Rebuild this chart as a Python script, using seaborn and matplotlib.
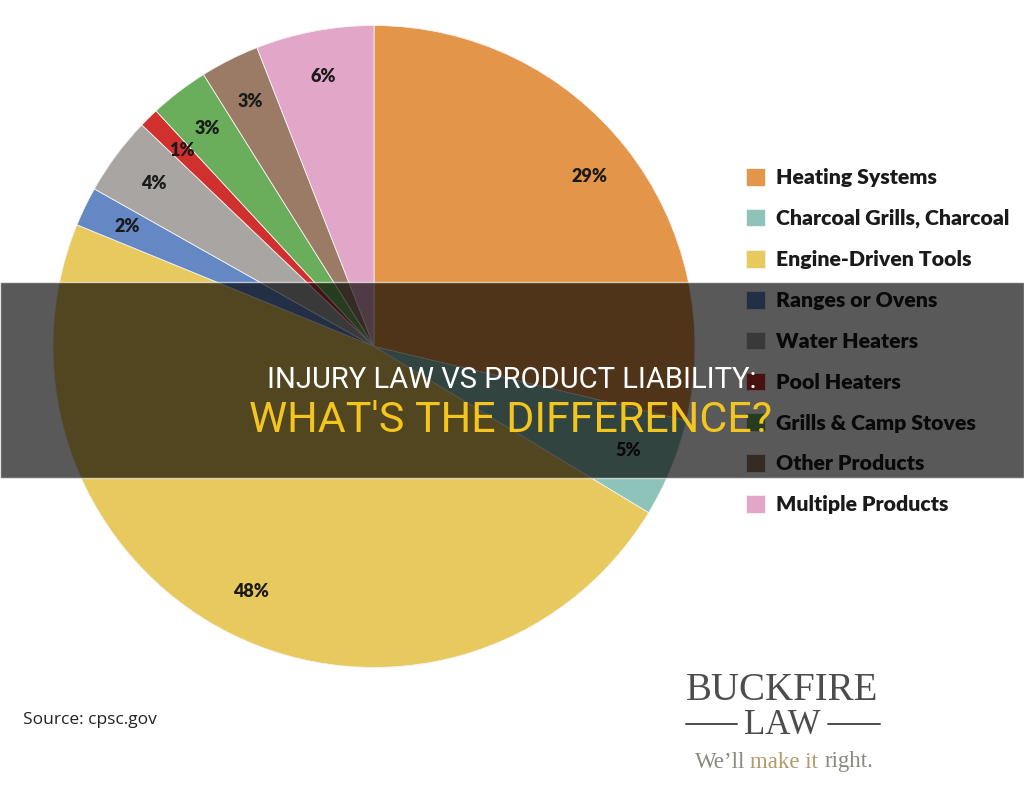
import matplotlib
matplotlib.use("Agg")
import matplotlib.pyplot as plt
from matplotlib.patches import Rectangle
import seaborn as sns

categories = ["Heating Systems", "Charcoal Grills, Charcoal", "Engine-Driven Tools",
              "Ranges or Ovens", "Water Heaters", "Pool Heaters",
              "Grills & Camp Stoves", "Other Products", "Multiple Products"]
shares = [29, 5, 48, 2, 4, 1, 3, 3, 6]
colors = ["#E3954A", "#8DC3B8", "#E8C95E", "#6488C4", "#A8A5A3",
          "#D0302E", "#6AAD5A", "#9C7B66", "#E2A6C8"]

sns.set_theme(style="white")
plt.rcParams["font.family"] = ["Lato", "DejaVu Sans"]

W, H = 1024, 794
fig = plt.figure(figsize=(W / 100, H / 100), dpi=100)
fig.patch.set_facecolor("white")

# pie axes: centre (374, 346.5) px, radius 321 px
cx, cy, r = 374, 346.5, 321
ax = fig.add_axes([(cx - r) / W, (H - cy - r) / H, 2 * r / W, 2 * r / H])
wedges, _, autotexts = ax.pie(
    shares, colors=sns.color_palette(colors), startangle=90, counterclock=False,
    autopct=lambda p: "", pctdistance=0.855,
    wedgeprops=dict(linewidth=0.6, edgecolor="#f3f3f3"))
for t, v in zip(autotexts, shares):
    t.set_text(f"{v}%")
    t.set_fontsize(13)
    t.set_fontweight("heavy")
    t.set_color("#1a1a1a")
ax.set_xlim(-1, 1)
ax.set_ylim(-1, 1)
ax.set_aspect("auto")
ax.axis("off")

leg = ax.legend(wedges, categories, loc="upper left",
                bbox_to_anchor=(746 / W, (H - 168) / H), bbox_transform=fig.transFigure,
                frameon=False, fontsize=15.3, handlelength=0.9, handleheight=0.9,
                handletextpad=0.5, labelspacing=1.02, borderaxespad=0, borderpad=0)
for txt in leg.get_texts():
    txt.set_fontweight("heavy")
    txt.set_color("#1a1a1a")

fig.text(23 / W, (H - 720) / H, "Source: cpsc.gov", fontsize=12.5, color="#222222",
         family=["Open Sans", "DejaVu Sans"], va="center", ha="left")

# logo
serif = ["Liberation Serif", "DejaVu Serif"]
fig.text(782 / W, (H - 691) / H, "BUCKFIRE", fontsize=28, color="#4d4d4d",
         family=serif, ha="center", va="center")
fig.text(782 / W, (H - 726) / H, "LAW", fontsize=25, color="#4d4d4d",
         family=serif, ha="center", va="center")
fig.add_artist(plt.Line2D([686 / W, 737 / W], [(H - 724) / H] * 2, color="#4d4d4d", lw=1.4))
fig.add_artist(plt.Line2D([828 / W, 880 / W], [(H - 724) / H] * 2, color="#4d4d4d", lw=1.4))
fig.text(745 / W, (H - 762) / H, "We\u2019ll", fontsize=16.5, color="#8a8a80",
         family=serif, ha="right", va="center")
fig.text(750 / W, (H - 762) / H, "make it", fontsize=16.5, color="#B59A6A",
         family=serif, ha="left", va="center")
fig.text(825 / W, (H - 762) / H, "right.", fontsize=16.5, color="#8a8a80",
         family=serif, ha="left", va="center")

# dark title band
fig.patches.append(Rectangle((0, (H - 478) / H), 1, 196 / H, transform=fig.transFigure,
                             facecolor="black", alpha=0.65, zorder=5))
narrow = ["Roboto", "DejaVu Sans"]
fig.text(512 / W, (H - 380) / H, "INJURY LAW VS PRODUCT LIABILITY:", fontsize=21,
         color="white", family=narrow, ha="center", va="center", zorder=6)
fig.text(511 / W, (H - 421) / H, "WHAT'S THE DIFFERENCE?", fontsize=31,
         color="#F4C51F", family=narrow, ha="center", va="center", zorder=6)

fig.savefig("out.png", dpi=100)
